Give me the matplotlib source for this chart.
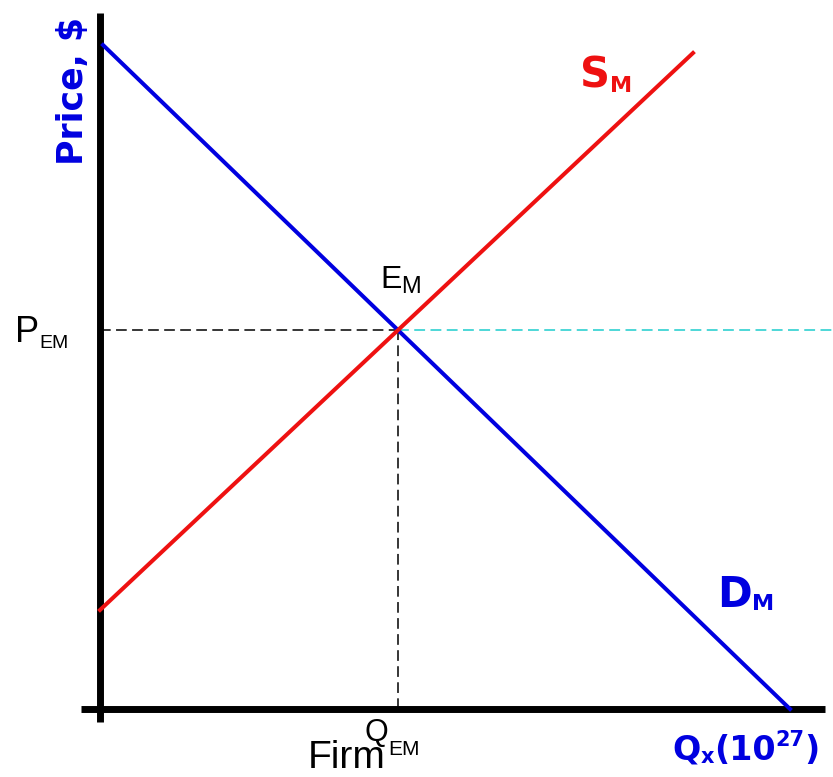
import matplotlib.pyplot as plt
import numpy as np

# market demand / supply (quantity, price) end points
demand_q = [0.3, 69.0]
demand_p = [66.4, 0.0]
supply_q = [0.0, 59.3]
supply_p = [9.9, 65.6]

BLUE = '#0000e0'
RED = '#ee1111'
CYAN = '#3fd4d4'
SANS = ['Liberation Sans', 'DejaVu Sans']


def chain(ax, x, y, parts, **kw):
    # draw text pieces left to right, each starting where the previous ended
    renderer = ax.figure.canvas.get_renderer()
    inv = ax.transData.inverted()
    for s, size, dy in parts:
        t = ax.text(x, y + dy, s, fontsize=size, va='baseline', ha='left', **kw)
        bb = t.get_window_extent(renderer)
        x = inv.transform((bb.x1, bb.y0))[0]


fig = plt.figure(figsize=(8.33, 7.77), dpi=100)
ax = fig.add_axes([0, 0, 1, 1])
ax.set_xlim(-10, 73.3)
ax.set_ylim(-6.8, 70.9)
ax.axis('off')

# equilibrium from the two lines
md, bd = np.polyfit(demand_q, demand_p, 1)
ms, bs = np.polyfit(supply_q, supply_p, 1)
q_eq = (bs - bd) / (md - ms)
p_eq = md * q_eq + bd

# axes
ax.plot([0, 0], [-1.3, 69.6], color='black', lw=5, solid_capstyle='butt', zorder=3)
ax.plot([-1.9, 72.5], [0, 0], color='black', lw=5, solid_capstyle='butt', zorder=3)

# guide lines
ax.plot([0, q_eq], [p_eq, p_eq], color='black', lw=1.1, dashes=(7, 3.5))
ax.plot([q_eq, q_eq], [0, p_eq], color='black', lw=1.1, dashes=(7, 3.5))
ax.plot([q_eq, 73.3], [p_eq, p_eq], color=CYAN, lw=1.3, dashes=(6, 3))

# curves
ax.plot(demand_q, demand_p, color=BLUE, lw=2.9, zorder=4)
ax.plot(supply_q, supply_p, color=RED, lw=2.9, zorder=4)

# labels
ax.text(-2.7, 61.8, 'Price, $', rotation=90, color=BLUE, fontsize=25,
        fontweight='bold', ha='center', va='center')
chain(ax, 48.0, 62.1, [('S', 30, 0), ('M', 16, -0.4)], color=RED, fontweight='bold')
chain(ax, 61.7, 10.2, [('D', 30, 0), ('M', 16, -0.3)], color=BLUE, fontweight='bold')
chain(ax, 28.0, 42.1, [('E', 23, 0), ('M', 17, -0.5)], color='black', family=SANS)
chain(ax, -8.5, 36.7, [('P', 26, 0), ('EM', 14, -0.6)], color='black', family=SANS)
ax.text(20.8, -5.95, 'Firm', fontsize=28, color='black', family=SANS, va='baseline')
chain(ax, 26.5, -3.2, [('Q', 22, 0), ('EM', 15, -1.4)], color='black', family=SANS)
chain(ax, 57.2, -5.1, [('Q', 24, 0), ('x', 15, -0.3), ('(10', 24, 0), ('27', 15, 1.4), (')', 24, 0)],
      color=BLUE, fontweight='bold')

fig.savefig('out.png', dpi=100)
